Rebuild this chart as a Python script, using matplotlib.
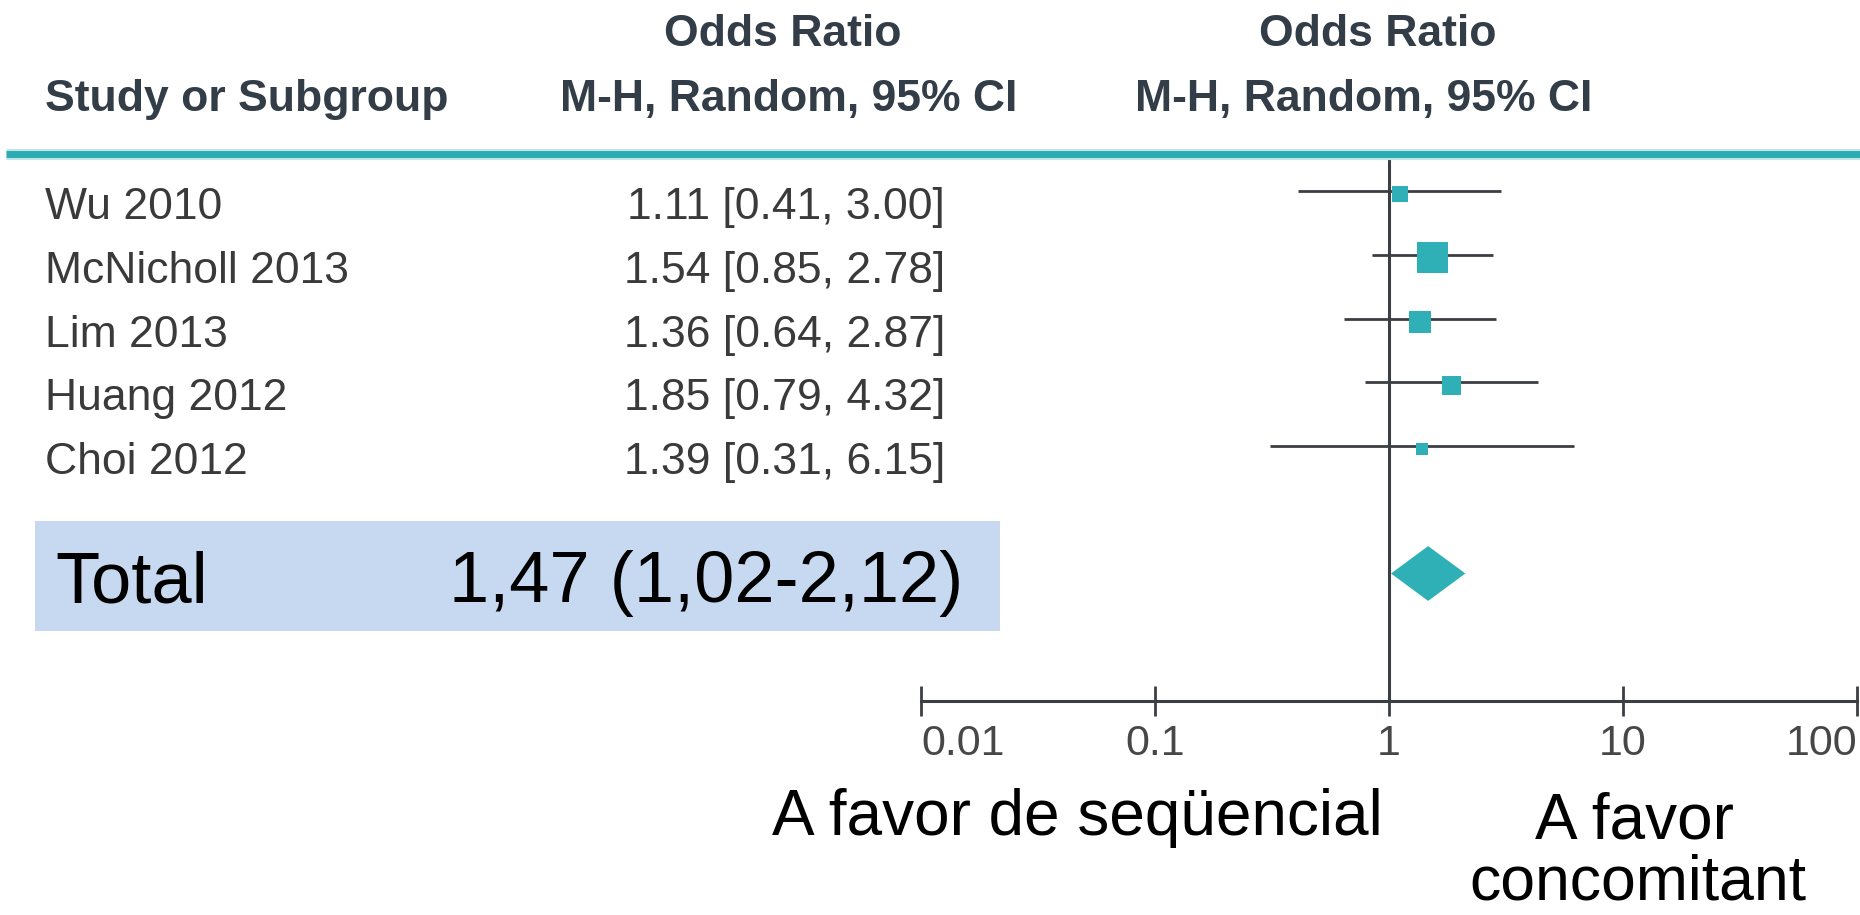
import matplotlib
matplotlib.use("Agg")
import matplotlib.pyplot as plt
import numpy as np
from matplotlib.patches import Rectangle
from matplotlib.lines import Line2D
from matplotlib.transforms import blended_transform_factory
from matplotlib.ticker import NullLocator

plt.rcParams['font.family'] = ['Liberation Sans', 'DejaVu Sans']

# ---------------- data ----------------
studies = ["Wu 2010", "McNicholl 2013", "Lim 2013", "Huang 2012", "Choi 2012"]
or_est = [1.11, 1.54, 1.36, 1.85, 1.39]
ci_low = [0.41, 0.85, 0.64, 0.79, 0.31]
ci_high = [3.00, 2.78, 2.87, 4.32, 6.15]
weights = [11.6, 43.6, 21.9, 16.4, 6.5]          # relative study weights (%)
total_est, total_low, total_high = 1.47, 1.02, 2.12
total_label = "1,47 (1,02-2,12)"
tick_values = [0.01, 0.1, 1, 10, 100]
tick_labels = ["0.01", "0.1", "1", "10", "100"]
header_top = ["Odds Ratio", "Odds Ratio"]
header_bottom = ["Study or Subgroup", "M-H, Random, 95% CI", "M-H, Random, 95% CI"]
left_label = "A favor de seqüencial"
right_label = ["A favor", "concomitant"]

# ---------------- style ----------------
W, H = 1860, 915
TEAL = '#2fb0b7'
DARK = '#3b3f44'
HEAD = '#333d47'
ROWTXT = '#3a3a3a'

fig = plt.figure(figsize=(W / 100, H / 100), dpi=100)

row_top_px, row_step = 191.0, 63.75
ax = fig.add_axes([921 / W, 0, (1857 - 921) / W, 1])
ax.set_xscale('log')
ax.set_xlim(tick_values[0], tick_values[-1])
ax.set_ylim((H - row_top_px) / row_step, -row_top_px / row_step)
ax.patch.set_visible(False)

rows = np.arange(len(studies))
total_y = 6.0
axis_y = 8.0
top_y = (154 - row_top_px) / row_step
text_dy = 0.19

# confidence intervals
ax.hlines(rows, ci_low, ci_high, color=DARK, lw=2.0, zorder=2)
# weighted squares
side_px = 4.695 * np.sqrt(np.array(weights))
sizes = (side_px * 72 / 100) ** 2
ax.scatter(or_est, rows + 0.05, marker='s', s=sizes, color=TEAL, linewidths=0, zorder=3)
# pooled diamond
dh = 0.43
ax.fill([total_low, total_est, total_high, total_est],
        [total_y, total_y - dh, total_y, total_y + dh],
        color=TEAL, lw=0, zorder=3)
# line of no effect
ax.vlines(1, top_y, axis_y, color=DARK, lw=2.2, zorder=2)

# axis
for s in ['top', 'right', 'left']:
    ax.spines[s].set_visible(False)
ax.spines['bottom'].set_position(('data', axis_y))
ax.spines['bottom'].set_color(DARK)
ax.spines['bottom'].set_linewidth(2.2)
ax.set_yticks([])
ax.set_xticks(tick_values)
ax.set_xticklabels(tick_labels)
ax.xaxis.set_minor_locator(NullLocator())
ax.tick_params(axis='x', direction='inout', length=21, width=2.0, color=DARK,
               labelsize=31, labelcolor='#474747', pad=6)
labs = ax.get_xticklabels()
labs[0].set_ha('left')
labs[-1].set_ha('right')

# teal header rule
fig.add_artist(Line2D([6 / W, 1], [1 - 154 / H] * 2, transform=fig.transFigure,
                      lw=8, color='#bfe5e8', solid_capstyle='butt'))
fig.add_artist(Line2D([6 / W, 1], [1 - 154 / H] * 2, transform=fig.transFigure,
                      lw=5, color='#2aacb2', solid_capstyle='butt'))

# headers
def fy(py):
    return 1 - py / H

fig.text(783 / W, fy(30), header_top[0], ha='center', va='center_baseline',
         fontsize=32, fontweight='bold', color=HEAD)
fig.text(1378 / W, fy(30), header_top[1], ha='center', va='center_baseline',
         fontsize=32, fontweight='bold', color=HEAD)
fig.text(45 / W, fy(95), header_bottom[0], ha='left', va='center_baseline',
         fontsize=32, fontweight='bold', color=HEAD)
fig.text(789 / W, fy(95), header_bottom[1], ha='center', va='center_baseline',
         fontsize=32, fontweight='bold', color=HEAD)
fig.text(1364 / W, fy(95), header_bottom[2], ha='center', va='center_baseline',
         fontsize=32, fontweight='bold', color=HEAD)

# rows text
tr = blended_transform_factory(fig.transFigure, ax.transData)
for i, name in enumerate(studies):
    ax.text(45 / W, rows[i] + text_dy, name, transform=tr, ha='left',
            va='center_baseline', fontsize=32, color=ROWTXT)
    ax.text(945 / W, rows[i] + text_dy,
            f"{or_est[i]:.2f} [{ci_low[i]:.2f}, {ci_high[i]:.2f}]",
            transform=tr, ha='right', va='center_baseline', fontsize=32, color=ROWTXT)

# total box
ax.add_patch(Rectangle((35 / W, 5.18), (1000 - 35) / W, 1.72, transform=tr,
                       facecolor='#c6d9f0', edgecolor='none', clip_on=False, zorder=0))
ax.text(55 / W, total_y + 0.04, "Total", transform=tr, ha='left', va='center_baseline',
        fontsize=52, color='black')
ax.text(963 / W, total_y + 0.04, total_label, transform=tr, ha='right',
        va='center_baseline', fontsize=52, color='black')

# direction labels
fig.text(1077 / W, fy(812), left_label, ha='center', va='center_baseline',
         fontsize=46, color='black')
fig.text(1634 / W, fy(815), right_label[0], ha='center', va='center_baseline',
         fontsize=46, color='black')
fig.text(1638 / W, fy(877), right_label[1], ha='center', va='center_baseline',
         fontsize=45, color='black')

fig.savefig('out.png', dpi=100)
